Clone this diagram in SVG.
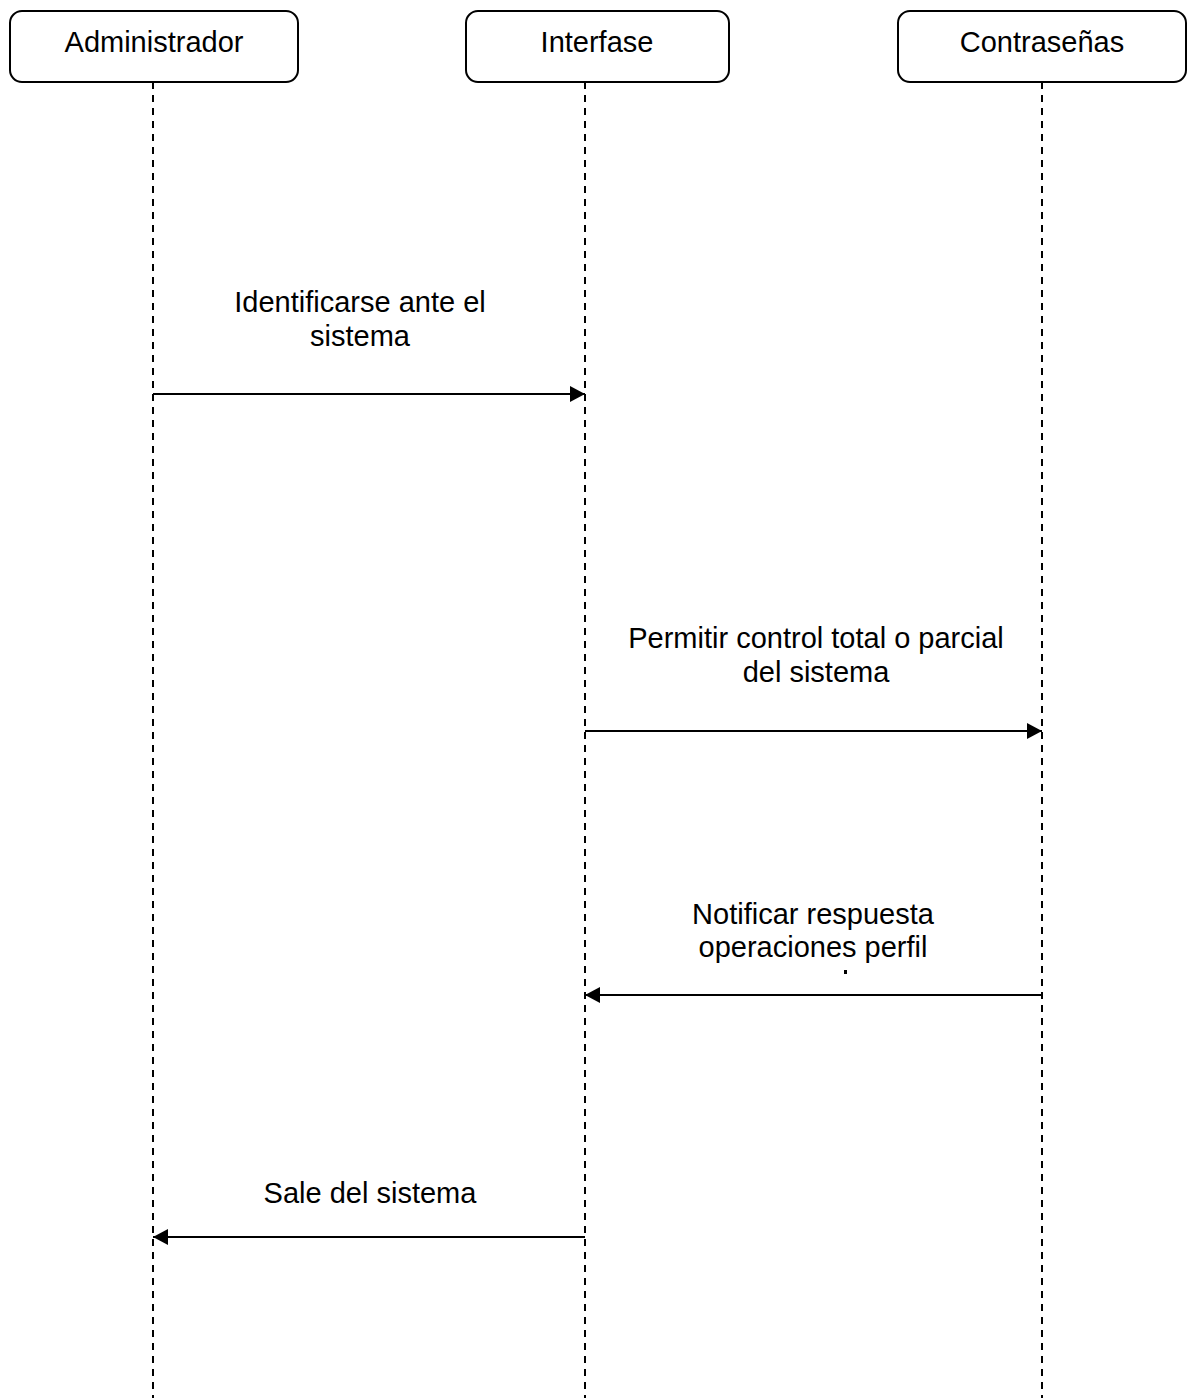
<svg xmlns="http://www.w3.org/2000/svg" width="1191" height="1398" viewBox="0 0 1191 1398">
  <style>
    .actor rect { fill: #ffffff; stroke: #000000; stroke-width: 2; }
    .life { stroke: #000000; stroke-width: 2; stroke-dasharray: 7 6; fill: none; }
    .msg { stroke: #000000; stroke-width: 2; fill: none; }
    text { font-family: "Liberation Sans", Arial, sans-serif; font-size: 29px; fill: #000000; text-anchor: middle; }
  </style>
  <defs>
    <marker id="arrow" viewBox="0 0 15 16" refX="15" refY="8" markerWidth="15" markerHeight="16" markerUnits="userSpaceOnUse" orient="auto">
      <path d="M0,0 L15,8 L0,16 Z" fill="#000000"/>
    </marker>
  </defs>

  <!-- lifelines -->
  <g id="lifelines">
    <line class="life" x1="153" y1="82" x2="153" y2="1398"/>
    <line class="life" x1="585" y1="82" x2="585" y2="1398"/>
    <line class="life" x1="1042" y1="82" x2="1042" y2="1398"/>
  </g>

  <!-- participants -->
  <g id="administrador" class="actor">
    <rect x="10" y="11" width="288" height="71" rx="12"/>
    <text x="154" y="52">Administrador</text>
  </g>
  <g id="interfase" class="actor">
    <rect x="466" y="11" width="263" height="71" rx="12"/>
    <text x="597" y="52">Interfase</text>
  </g>
  <g id="contrasenas" class="actor">
    <rect x="898" y="11" width="288" height="71" rx="12"/>
    <text x="1042" y="52">Contraseñas</text>
  </g>

  <!-- messages -->
  <g id="connectors">
    <g id="msg1">
      <line class="msg" x1="153" y1="394" x2="585" y2="394" marker-end="url(#arrow)"/>
      <text x="360" y="312">Identificarse ante el</text>
      <text x="360" y="346">sistema</text>
    </g>
    <g id="msg2">
      <line class="msg" x1="585" y1="731" x2="1042" y2="731" marker-end="url(#arrow)"/>
      <text x="816" y="648">Permitir control total o parcial</text>
      <text x="816" y="682">del sistema</text>
    </g>
    <g id="msg3">
      <line class="msg" x1="1042" y1="995" x2="585" y2="995" marker-end="url(#arrow)"/>
      <text x="813" y="924">Notificar respuesta</text>
      <text x="813" y="957">operaciones perfil</text>
      <rect x="844" y="970" width="3" height="4" fill="#000000"/>
    </g>
    <g id="msg4">
      <line class="msg" x1="585" y1="1237" x2="153" y2="1237" marker-end="url(#arrow)"/>
      <text x="370" y="1203">Sale del sistema</text>
    </g>
  </g>
</svg>
